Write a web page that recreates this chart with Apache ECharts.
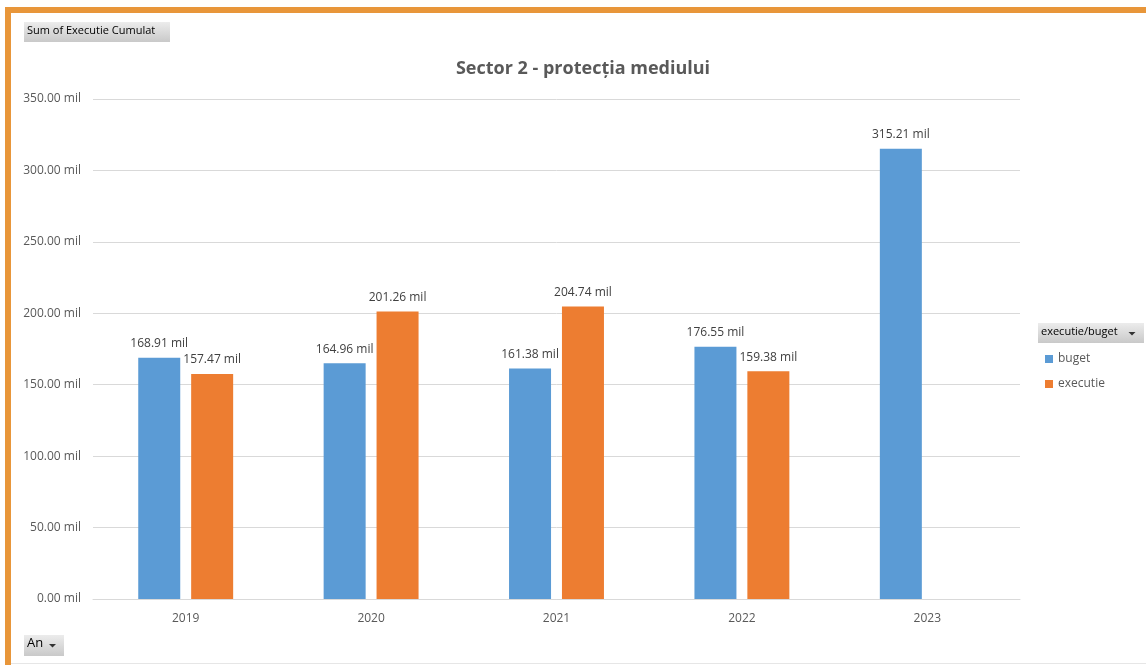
<!DOCTYPE html>
<html>
<head>
<meta charset="utf-8">
<script src="https://cdn.jsdelivr.net/npm/echarts@6/dist/echarts.min.js"></script>
<style>
html,body{margin:0;padding:0;background:#fff;}
#c{width:1146px;height:665px;}
</style>
</head>
<body>
<div id="c"></div>
<script>
var categories = ['2019', '2020', '2021', '2022', '2023'];
var buget = [168.91, 164.96, 161.38, 176.55, 315.21];
var executie = [157.47, 201.26, 204.74, 159.38, null];
var seriesNames = ['buget', 'executie'];
var titleText = 'Sector 2 - protecția mediului';

var FONT = '"Open Sans", "Noto Sans", sans-serif';
var chart = echarts.init(document.getElementById('c'));
function fmt(v) { return v.toFixed(2) + ' mil'; }
var gradBtn = new echarts.graphic.LinearGradient(0, 0, 0, 1, [
  {offset: 0, color: '#ececec'}, {offset: 1, color: '#c9c9c9'}
]);
chart.setOption({
  backgroundColor: '#ffffff',
  animation: false,
  textStyle: {fontFamily: FONT},
  title: {
    text: titleText, left: 578, textAlign: 'center', top: 55,
    textStyle: {fontFamily: FONT, fontSize: 18, fontWeight: 'bold', color: '#595959'}
  },
  grid: {left: 93, right: 126, top: 99, bottom: 66, containLabel: false},
  legend: {
    orient: 'vertical', left: 1040, top: 348, itemWidth: 8, itemHeight: 8, itemGap: 13,
    icon: 'rect', data: seriesNames,
    textStyle: {fontFamily: FONT, fontSize: 12, color: '#595959'}
  },
  xAxis: {
    type: 'category', data: categories,
    axisLine: {lineStyle: {color: '#d9d9d9'}},
    axisTick: {show: false},
    axisLabel: {color: '#595959', fontSize: 12, fontFamily: FONT, margin: 14}
  },
  yAxis: {
    type: 'value', min: 0, max: 350, interval: 50,
    axisLine: {show: false}, axisTick: {show: false},
    splitLine: {lineStyle: {color: '#d9d9d9'}},
    axisLabel: {color: '#595959', fontSize: 12, fontFamily: FONT, margin: 12, formatter: function (v) { return fmt(v); }}
  },
  series: [
    {name: seriesNames[0], type: 'bar', data: buget, barWidth: 42, barGap: '26%',
     itemStyle: {color: '#5B9BD5'},
     label: {show: true, position: 'top', distance: 8, color: '#404040', fontSize: 12, fontFamily: FONT, formatter: function (p) { return fmt(p.value); }}},
    {name: seriesNames[1], type: 'bar', data: executie, barWidth: 42, barGap: '26%',
     itemStyle: {color: '#ED7D31'},
     label: {show: true, position: 'top', distance: 8, color: '#404040', fontSize: 12, fontFamily: FONT, formatter: function (p) { return p.value == null ? '' : fmt(p.value); }}}
  ],
  graphic: [
    {type: 'rect', left: 5, top: 7, shape: {width: 1141, height: 6}, style: {fill: '#E8963A'}, silent: true},
    {type: 'rect', left: 5, top: 7, shape: {width: 6, height: 658}, style: {fill: '#E8963A'}, silent: true},
    {type: 'rect', left: 11, top: 663, shape: {width: 1135, height: 1}, style: {fill: '#e6e6e6'}, silent: true},
    {type: 'rect', left: 24, top: 22, shape: {width: 146, height: 20}, style: {fill: gradBtn}, silent: true},
    {type: 'text', left: 27, top: 25, style: {text: 'Sum of Executie Cumulat', fill: '#000', font: '11px ' + FONT}, silent: true},
    {type: 'rect', left: 24, top: 635, shape: {width: 40, height: 21}, style: {fill: gradBtn}, silent: true},
    {type: 'text', left: 27, top: 637, style: {text: 'An', fill: '#000', font: '13px ' + FONT}, silent: true},
    {type: 'polygon', shape: {points: [[49, 644], [56, 644], [52.5, 647.5]]}, style: {fill: '#333'}, silent: true},
    {type: 'rect', left: 1038, top: 323, shape: {width: 106, height: 20}, style: {fill: gradBtn}, silent: true},
    {type: 'text', left: 1041, top: 326, style: {text: 'executie/buget', fill: '#000', font: '11px ' + FONT}, silent: true},
    {type: 'polygon', shape: {points: [[1128.5, 332], [1135.5, 332], [1132, 335.5]]}, style: {fill: '#333'}, silent: true}
  ]
});
</script>
</body>
</html>
